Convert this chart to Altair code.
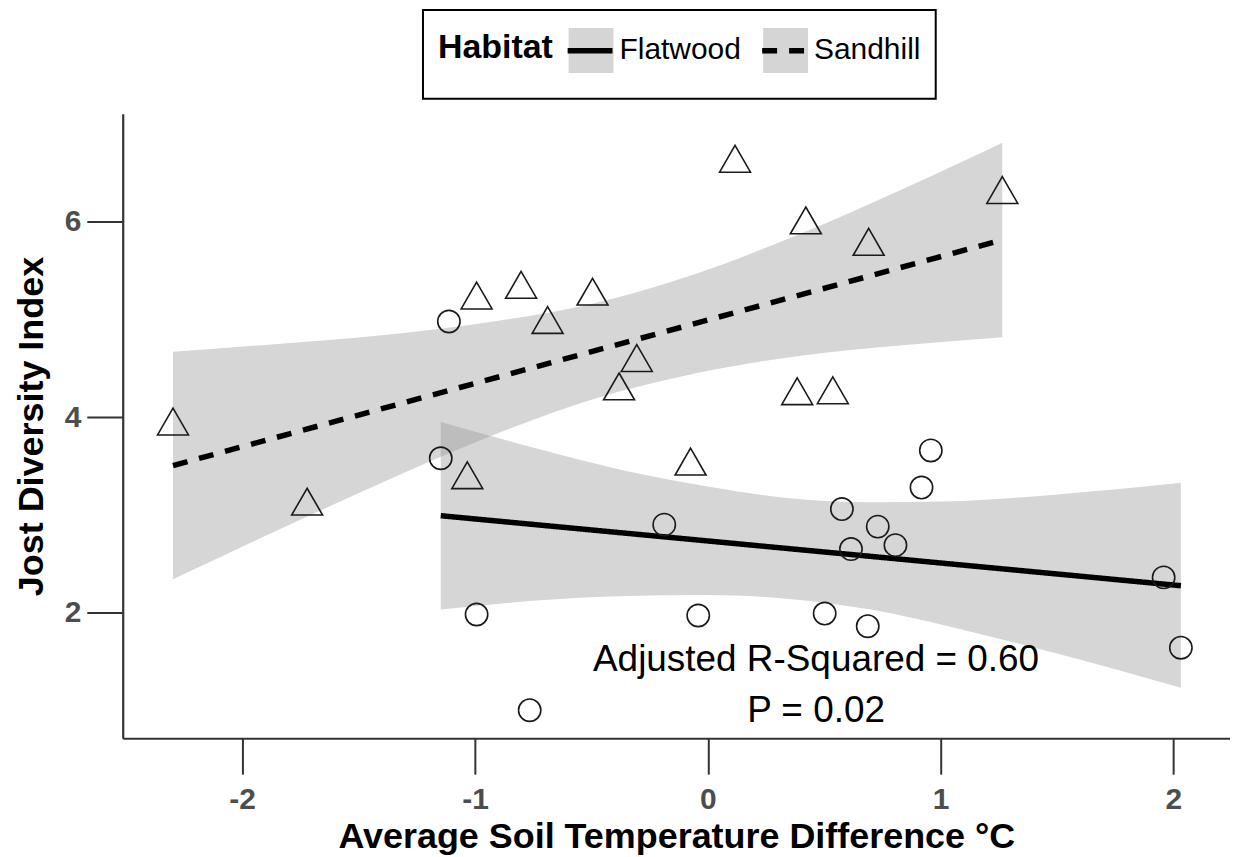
import altair as alt
import pandas as pd

habitats = ["Flatwood", "Sandhill"]

# Flatwood sites (open circles)
flat_x = [-1.112, -1.147, -0.993, -0.765, -0.187, -0.041, 0.502, 0.576,
          0.615, 0.730, 0.687, 0.806, 0.918, 0.958, 1.958, 2.032]
flat_y = [4.98, 3.58, 1.98, 1.00, 2.90, 1.97, 1.99, 3.06,
          2.65, 2.88, 1.86, 2.69, 3.28, 3.66, 2.36, 1.64]

# Sandhill sites (open triangles)
sand_x = [-2.297, -1.721, -0.993, -0.802, -0.688, -0.495, -0.305, -0.381,
          -1.033, -0.074, 0.117, 0.421, 0.691, 1.265, 0.384, 0.537]
sand_y = [3.91, 3.09, 5.20, 5.31, 4.95, 5.24, 4.56, 4.27,
          3.36, 3.50, 6.60, 5.97, 5.75, 6.28, 4.22, 4.23]

# confidence ribbons
flat_band_x = [-1.147, -0.75, -0.35, 0.0, 0.35, 0.7, 1.05, 1.5, 2.032]
flat_band_lo = [2.03, 2.12, 2.17, 2.18, 2.14, 2.03, 1.85, 1.58, 1.23]
flat_band_hi = [3.95, 3.69, 3.45, 3.29, 3.17, 3.13, 3.14, 3.21, 3.33]

sand_band_x = [-2.297, -1.85, -1.4, -0.95, -0.5, -0.05, 0.4, 0.85, 1.265]
sand_band_lo = [2.34, 2.84, 3.33, 3.79, 4.18, 4.45, 4.63, 4.74, 4.82]
sand_band_hi = [4.67, 4.75, 4.84, 4.97, 5.16, 5.47, 5.88, 6.35, 6.81]

ann_lines = ["Adjusted R-Squared = 0.60", "P = 0.02"]

x_ticks = [-2, -1, 0, 1, 2]
y_ticks = [2, 4, 6]

FONT = "Liberation Sans"
TRI = "M0,-1.1547L1,0.5774L-1,0.5774Z"

pts = pd.DataFrame({
    "Habitat": [habitats[0]] * len(flat_x) + [habitats[1]] * len(sand_x),
    "x": flat_x + sand_x,
    "y": flat_y + sand_y,
})
flat_pts = pd.DataFrame({"x": flat_x, "y": flat_y})
sand_pts = pd.DataFrame({"x": sand_x, "y": sand_y})
band = pd.DataFrame({
    "Habitat": [habitats[0]] * len(flat_band_x) + [habitats[1]] * len(sand_band_x),
    "x": flat_band_x + sand_band_x,
    "lo": flat_band_lo + sand_band_lo,
    "hi": flat_band_hi + sand_band_hi,
})

xscale = alt.Scale(domain=[-2.513, 2.243], nice=False, zero=False)
yscale = alt.Scale(domain=[0.713, 7.107], nice=False, zero=False)
xaxis = alt.Axis(values=x_ticks, title="Average Soil Temperature Difference °C",
                 labelExpr="'' + datum.value", labelFlush=False)
yaxis = alt.Axis(values=y_ticks, title="Jost Diversity Index",
                 labelExpr="'' + datum.value")

X = alt.X("x:Q", scale=xscale, axis=xaxis)
Y = alt.Y("y:Q", scale=yscale, axis=yaxis)

LX, LY = 301, -104
TITLE_W = 115 + 12  # width of the bold "Habitat" title plus its padding
common_leg = dict(
    orient="none", legendY=LY, direction="horizontal",
    labelFontSize=30, labelFont=FONT, labelOffset=3, symbolSize=2025,
    symbolStrokeWidth=5.5, columnPadding=11, padding=15,
)
legA = alt.Legend(**common_leg, legendX=LX,
                  title="Habitat", titleOrient="left", titleFontSize=34,
                  titleFontWeight="bold", titleFont=FONT, titlePadding=12,
                  titleAnchor="middle", titleBaseline="line-bottom", titleLineHeight=13,
                  titleColor="black", labelColor="black",
                  symbolType="square", symbolStrokeColor="transparent", symbolOpacity=0.4,
                  strokeColor="black", fillColor="white")
legB = alt.Legend(**common_leg, legendX=LX + TITLE_W, title=None,
                  labelColor="transparent",
                  symbolType="stroke", symbolStrokeColor="black", symbolOpacity=1)

bands = alt.Chart(band).mark_area(opacity=0.4, interpolate="monotone").encode(
    x=X,
    y=alt.Y("lo:Q", scale=yscale, axis=yaxis),
    y2="hi:Q",
    fill=alt.Fill("Habitat:N", scale=alt.Scale(range=["#999999", "#999999"]), legend=legA),
)

lines = alt.Chart(pts).transform_regression("x", "y", groupby=["Habitat"]).mark_line(
    strokeWidth=5.5, color="black", strokeCap="butt"
).encode(
    x=X, y=Y,
    strokeDash=alt.StrokeDash("Habitat:N",
                              scale=alt.Scale(domain=habitats, range=[[1, 0], [15, 12]]),
                              legend=legB),
)

circles = alt.Chart(flat_pts).mark_point(
    shape="circle", size=500, filled=False, stroke="#1a1a1a", strokeWidth=1.6, opacity=1
).encode(x=X, y=Y)

triangles = alt.Chart(sand_pts).mark_point(
    shape=TRI, size=960, filled=False, stroke="#1a1a1a", strokeWidth=1.6, opacity=1
).encode(x=X, y=Y)

txt1 = alt.Chart(pd.DataFrame({"t": [ann_lines[0]]})).mark_text(
    fontSize=37, font=FONT, color="black", align="center", baseline="middle"
).encode(x=alt.datum(0.465), y=alt.datum(1.513), text="t:N")
txt2 = alt.Chart(pd.DataFrame({"t": [ann_lines[1]]})).mark_text(
    fontSize=37, font=FONT, color="black", align="center", baseline="middle"
).encode(x=alt.datum(0.465), y=alt.datum(0.987), text="t:N")

chart = alt.layer(bands, lines, circles, triangles, txt1, txt2).properties(
    width=1110, height=626,
    autosize=alt.AutoSizeParams(type="none"),
    padding={"left": 115, "top": 105, "right": 0, "bottom": 116},
).configure(font=FONT).configure_view(stroke=None).configure_legend(
    strokeWidth=2
).configure_axis(
    grid=False, domainColor="#333333", domainWidth=2.2, tickColor="#333333",
    tickWidth=2, tickSize=36, labelFontSize=30, labelFontWeight="bold",
    labelColor="#4d4d4d", labelFont=FONT, titleFont=FONT, titleFontSize=36,
    titleFontWeight="bold", titleColor="black",
).configure_axisX(labelPadding=10, titlePadding=6).configure_axisY(
    labelPadding=6, titlePadding=14
)

chart.save("out.html", embed_options={"renderer": "svg", "actions": False})
